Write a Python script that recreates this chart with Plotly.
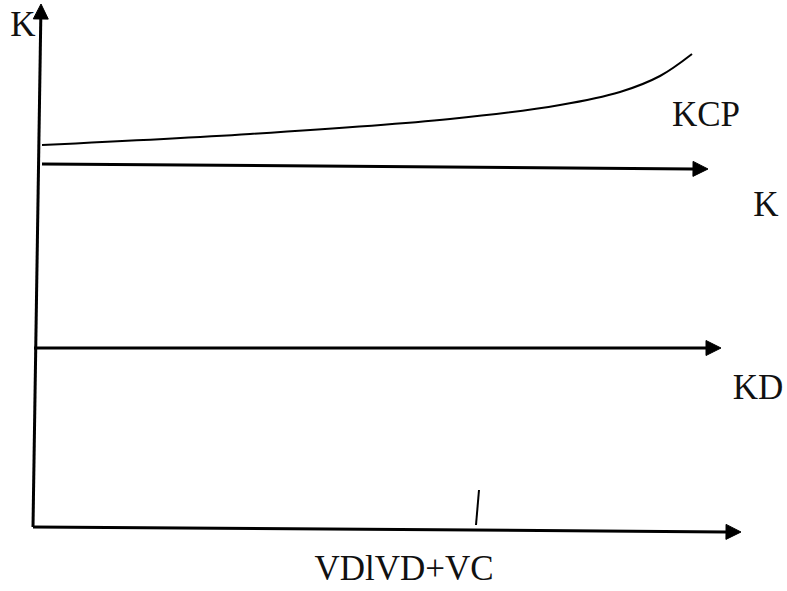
import math
import plotly.graph_objects as go

# ---- data (pixel-like coordinate space of the diagram) ----
# vertical K axis (bottom -> tip)
v_axis_x = [33, 41]
v_axis_y = [527, 4]
# horizontal axis (left -> tip)
h_axis_x = [33, 741]
h_axis_y = [527, 532]
# K line (left -> tip)
k_line_x = [42, 708]
k_line_y = [164, 169]
# KD line (left -> tip)
kd_line_x = [34, 721]
kd_line_y = [348, 348]
# KCP curve
kcp_x = [42, 250, 450, 560, 620, 660, 692]
kcp_y = [145, 134, 119, 105, 92, 76, 54]
# small tick on horizontal axis
tick_x = [479, 476]
tick_y = [490, 525]

label_texts = ["K", "KCP", "K", "KD", "VDlVD+VC"]
label_x = [23, 706, 766, 758, 404]
label_y = [27, 117, 207, 390, 571]

HEAD_LEN = 15
HEAD_W = 15


def head(xs, ys, length=HEAD_LEN, width=HEAD_W):
    x0, y0, x1, y1 = xs[-2], ys[-2], xs[-1], ys[-1]
    d = math.hypot(x1 - x0, y1 - y0)
    ux, uy = (x1 - x0) / d, (y1 - y0) / d
    bx, by = x1 - ux * length, y1 - uy * length
    px, py = -uy * width / 2, ux * width / 2
    return ([x1, bx + px, bx - px, x1], [y1, by + py, by - py, y1], bx, by)


fig = go.Figure()

for xs, ys in [(v_axis_x, v_axis_y), (h_axis_x, h_axis_y),
               (k_line_x, k_line_y), (kd_line_x, kd_line_y)]:
    hx, hy, bx, by = head(xs, ys)
    fig.add_trace(go.Scatter(x=[xs[0], bx], y=[ys[0], by], mode="lines",
                             line=dict(color="black", width=3),
                             hoverinfo="skip", showlegend=False))
    fig.add_trace(go.Scatter(x=hx, y=hy, mode="lines", fill="toself",
                             fillcolor="black", line=dict(color="black", width=1),
                             hoverinfo="skip", showlegend=False))

fig.add_trace(go.Scatter(x=kcp_x, y=kcp_y, mode="lines",
                         line=dict(color="black", width=2, shape="spline", smoothing=1.0),
                         hoverinfo="skip", showlegend=False))
fig.add_trace(go.Scatter(x=tick_x, y=tick_y, mode="lines",
                         line=dict(color="black", width=2),
                         hoverinfo="skip", showlegend=False))

fig.add_trace(go.Scatter(x=label_x, y=label_y, mode="text", text=label_texts,
                         textposition="middle center", cliponaxis=False,
                         textfont=dict(family="Liberation Serif", size=35, color="#111"),
                         hoverinfo="skip", showlegend=False))

fig.update_layout(
    width=787, height=591,
    margin=dict(l=0, r=0, t=0, b=0),
    paper_bgcolor="white", plot_bgcolor="white",
    xaxis=dict(range=[0, 787], visible=False, fixedrange=True),
    yaxis=dict(range=[591, 0], visible=False, fixedrange=True),
)

fig.write_html("out.html", config={"displayModeBar": False},
               post_script="document.body.style.margin='0px';document.body.style.overflow='hidden';")
